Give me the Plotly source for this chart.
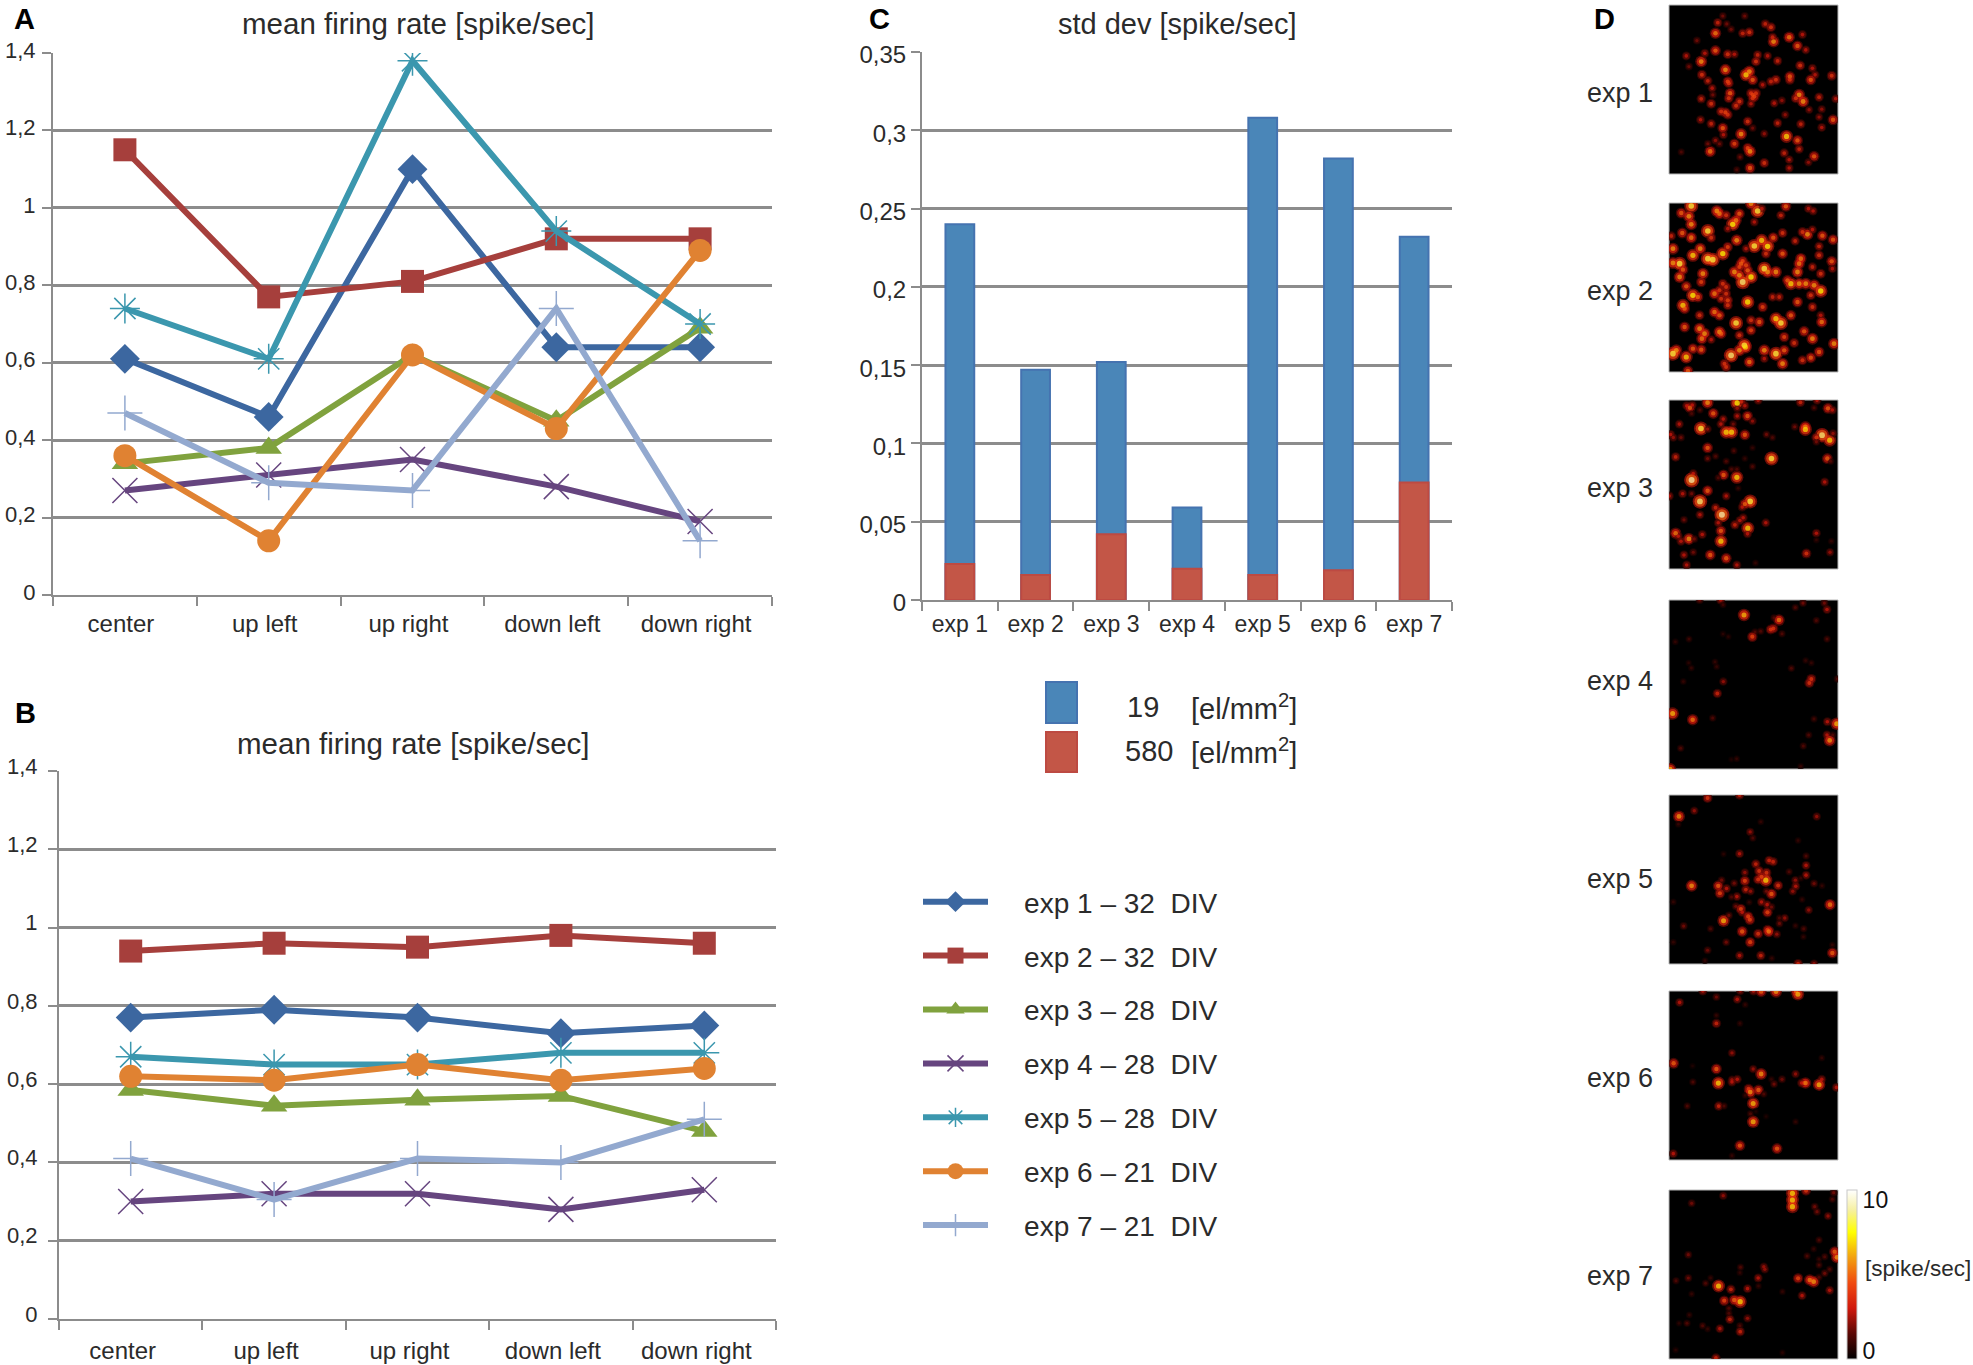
"""Firing rate figure: panels A, B (line), C (bars), D (spot maps)."""
import plotly.graph_objects as go

W, H = 1973, 1365
FONT = "Liberation Sans"
INK = "#2b2b2b"
GRID = "#8c8c8c"

positions = ["center", "up left", "up right", "down left", "down right"]
rate_ticks = [0, 0.2, 0.4, 0.6, 0.8, 1, 1.2, 1.4]
rate_labels = ["0", "0,2", "0,4", "0,6", "0,8", "1", "1,2", "1,4"]

exp_names = ["exp 1 – 32 DIV", "exp 2 – 32 DIV", "exp 3 – 28 DIV", "exp 4 – 28 DIV",
             "exp 5 – 28 DIV", "exp 6 – 21 DIV", "exp 7 – 21 DIV"]
exp_colors = ["#3c67a0", "#a63f3c", "#80a23e", "#66457f", "#3b97ae", "#e08232", "#93a9cf"]
exp_markers = ["diamond", "square", "triangle-up", "x-thin-open", "asterisk-open", "circle", "cross-thin-open"]

rate_a_1 = [0.61, 0.46, 1.10, 0.64, 0.64]
rate_a_2 = [1.15, 0.77, 0.81, 0.92, 0.92]
rate_a_3 = [0.34, 0.38, 0.62, 0.45, 0.69]
rate_a_4 = [0.27, 0.31, 0.35, 0.28, 0.19]
rate_a_5 = [0.74, 0.61, 1.38, 0.94, 0.70]
rate_a_6 = [0.36, 0.14, 0.62, 0.43, 0.89]
rate_a_7 = [0.47, 0.29, 0.27, 0.74, 0.14]

rate_b_1 = [0.77, 0.79, 0.77, 0.73, 0.75]
rate_b_2 = [0.94, 0.96, 0.95, 0.98, 0.96]
rate_b_3 = [0.585, 0.545, 0.56, 0.57, 0.48]
rate_b_4 = [0.30, 0.32, 0.32, 0.28, 0.33]
rate_b_5 = [0.67, 0.65, 0.65, 0.68, 0.68]
rate_b_6 = [0.62, 0.61, 0.65, 0.61, 0.64]
rate_b_7 = [0.41, 0.305, 0.41, 0.40, 0.51]

exps = ["exp 1", "exp 2", "exp 3", "exp 4", "exp 5", "exp 6", "exp 7"]
std_19 = [0.24, 0.147, 0.152, 0.059, 0.308, 0.282, 0.232]
std_580 = [0.023, 0.016, 0.042, 0.02, 0.016, 0.019, 0.075]
std_ticks = [0, 0.05, 0.1, 0.15, 0.2, 0.25, 0.3, 0.35]
std_labels = ["0", "0,05", "0,1", "0,15", "0,2", "0,25", "0,3", "0,35"]

# spots: (x, y, spike/sec), x and y in the crop's own units
spots_1 = [(235,68,3.5),(228,100,5.5),(250,48,2),(316,48,2),(262,72,2),(275,88,2),(310,100,3.5),(330,97,4),(378,72,3.5),(395,82,4),(403,125,6),(400,112,3.5),(450,112,5.5),(490,104,3),(172,122,2),(140,168,3),(148,200,2),(185,185,6),(187,225,4),(196,160,3),(228,152,5),(265,163,4),(285,163,3),(258,210,6),(320,225,7),(330,215,6),(340,240,5),(355,165,3.5),(350,185,4),(385,168,3),(415,183,3.5),(475,138,5),(500,150,3),(452,230,5),(452,240,4),(483,197,4),(520,205,3),(528,225,3),(515,240,5),(578,228,4),(205,243,3.5),(265,245,4.5),(268,250,4),(370,255,3),(395,245,3.5),(410,240,4),(218,265,3),(220,285,2),(272,280,5),(340,285,4.5),(345,290,4.5),(335,280,4),(350,280,4),(340,295,4),(480,285,6),(470,295,4),(492,305,6),(185,297,3.5),(215,312,4),(268,295,4),(300,305,4),(290,318,4),(258,338,4.5),(245,335,4),(265,345,4),(335,312,3),(405,310,3),(428,302,2.5),(540,292,3.5),(590,297,3),(183,360,3),(215,372,3.5),(250,385,5),(325,365,4),(340,385,2),(415,370,3.5),(438,345,2.5),(485,373,3.5),(510,330,2.5),(548,328,2.5),(540,352,2.5),(582,360,5),(548,383,3),(305,403,6),(252,405,3),(375,402,2.5),(442,410,7),(475,422,5),(285,432,4.5),(325,445,4.5),(332,455,6),(228,422,2.5),(212,455,5.5),(205,432,2),(240,432,2),(125,457,1.5),(302,472,2),(435,460,3.5),(480,448,3.5),(450,480,3),(525,470,5),(375,490,4),(508,488,2.5),(450,505,3),(332,505,5),(292,510,1.5)]
spots_2 = [(155,617,8),(125,638,5),(148,648,6),(232,632,6),(240,640,5.5),(260,645,4),(300,640,5),(290,660,5.5),(280,672,7.5),(335,610,6),(355,632,8),(368,625,3),(440,618,5),(425,645,3.5),(508,625,3),(522,632,3),(155,672,6),(205,692,8),(128,698,5),(95,707,3.5),(265,685,3),(345,665,3),(430,698,4),(505,702,6),(490,695,4),(520,688,3),(550,706,5),(582,718,5),(155,712,5.5),(215,712,4),(292,720,6),(402,712,5),(367,720,7),(385,738,7.5),(345,737,8),(320,745,3),(100,745,6),(182,745,6),(160,765,7),(250,760,7.5),(265,740,4.5),(205,775,8),(220,778,8),(310,782,4.5),(305,790,5),(430,760,5),(468,722,3.5),(485,775,5.5),(540,738,3.5),(540,765,4),(578,783,5),(120,790,8),(100,788,6),(380,760,4),(375,805,8),(385,815,6),(130,808,5),(120,830,6),(140,858,5),(190,820,6),(185,845,4.5),(285,815,6),(335,830,7.5),(310,845,8.5),(300,825,6),(325,810,5),(300,800,4.5),(320,795,4.5),(410,815,6),(475,815,6),(480,790,5.5),(520,800,3.5),(545,820,4),(580,805,3),(455,850,7),(480,850,6),(500,850,6),(445,840,5),(525,855,6),(545,872,7.5),(515,885,4),(240,870,4),(260,860,4),(250,850,4),(260,880,4),(245,895,4),(265,900,4.5),(265,915,4),(225,880,5.5),(160,885,7.5),(175,890,5),(325,905,7.5),(130,915,7),(135,925,5),(240,945,5),(225,935,5.5),(180,945,4),(370,920,4.5),(400,890,3.5),(420,890,3.5),(475,905,5),(520,920,4),(455,945,5),(410,955,7),(425,968,8),(290,968,8),(335,960,4),(360,965,5),(545,945,3),(548,965,5.5),(135,980,5),(180,985,6),(335,990,4.5),(240,995,6),(245,1000,5),(495,993,5),(195,1000,6),(187,1015,5.5),(300,1005,4),(435,1010,4.5),(465,1028,4),(520,1015,6),(585,1030,6),(215,1018,3),(315,1035,8),(318,1040,7),(375,1050,6),(110,1050,6),(100,1060,8),(140,1070,7),(160,1045,5),(185,1048,5),(275,1065,8.5),(300,1050,6),(410,1060,8),(435,1050,5),(540,1055,5),(515,1072,5),(490,1080,4),(430,1090,6),(255,1090,4),(260,1100,4),(145,1112,5),(330,1085,5.5),(375,1075,3)]
spots_3 = [(80,32,3),(90,38,5),(97,30,3),(143,23,6),(120,45,1.5),(95,55,1.5),(160,55,5),(232,24,7.5),(245,20,3.5),(255,32,3),(232,40,2.5),(295,16,3),(422,22,3.5),(472,16,3),(463,38,1.5),(505,40,5),(518,45,3),(58,87,3),(190,72,3),(183,87,3),(232,63,3),(263,63,5),(278,78,2.5),(220,87,2),(123,100,8),(143,102,2.5),(405,95,2),(437,95,5.5),(437,103,7),(199,111,7),(215,111,7),(255,119,5),(320,118,2),(338,127,1.5),(32,118,3),(40,127,2.5),(63,127,2),(487,120,8.5),(470,127,4),(510,135,7),(520,115,2.5),(470,140,2),(143,158,5),(222,167,1.5),(278,158,1),(47,185,3.5),(143,190,2),(167,183,1.5),(199,198,1.5),(255,190,1),(335,190,8),(503,190,5),(513,198,1.5),(215,222,1.5),(231,222,1.5),(278,214,1.5),(191,239,5),(231,246,7),(175,247,1.5),(100,235,3),(95,254,9),(495,260,3),(235,279,1),(143,286,5),(68,295,3),(95,295,2),(199,302,3),(28,302,3),(120,318,8.5),(271,318,8),(255,326,5),(247,335,3),(167,337,3.5),(120,358,3),(186,358,9),(72,373,2),(250,367,3),(240,375,3),(175,382,3),(225,388,3.5),(318,382,3),(183,406,5),(264,398,7),(263,415,3),(47,413,5.5),(55,422,3),(63,437,3),(127,417,3),(87,430,6),(103,430,2),(183,437,7),(470,413,3),(515,437,1),(470,433,1),(440,474,4),(511,470,2.5),(100,470,2),(72,478,3),(151,478,5),(199,488,5),(80,508,3),(231,508,3),(287,502,1)]
spots_4 = [(117,18,2),(180,18,3),(187,32,1.2),(250,62,6.5),(404,40,1.5),(427,27,2),(491,27,2),(499,46,3),(340,70,1.5),(355,77,5.5),(467,78,1.5),(330,105,4),(338,102,4),(300,110,1.5),(283,112,1.5),(275,126,4.5),(364,117,1.5),(187,118,0.8),(203,126,0.8),(85,133,1.2),(44,141,1),(499,133,1.5),(163,200,1),(84,203,0.8),(168,214,1),(92,218,1),(392,219,1.5),(435,196,1),(452,203,1),(452,250,4),(446,262,4),(530,250,1.5),(68,258,1),(188,258,2.5),(170,293,3.5),(36,352,6.5),(96,370,5.5),(156,365,1.5),(460,368,1.3),(500,376,3),(528,382,6.5),(444,415,1.5),(499,415,3),(516,415,1.5),(507,431,6),(428,447,1.5),(60,454,1.5),(228,485,1),(212,487,0.6),(420,507,1),(28,516,6.5)]
spots_5 = [(143,27,4),(239,18,3.5),(103,65,2.5),(57,82,6),(55,105,1),(471,82,2.5),(303,98,1),(271,128,2.5),(279,146,1.5),(415,154,1),(239,193,3),(191,194,0.8),(439,200,1.5),(328,213,3.5),(340,217,3.5),(288,224,3.5),(439,228,3),(388,247,1.5),(255,249,2.5),(298,245,4),(320,250,4),(295,270,4),(318,272,7),(305,262,4.5),(185,272,2),(223,281,2),(255,274,4.5),(407,272,2.5),(439,257,3),(423,266,1),(463,282,2),(487,289,1),(355,288,4),(95,289,6),(175,289,5),(200,297,3),(408,290,3),(399,305,2.5),(258,300,3.5),(272,305,2.5),(320,305,2),(335,313,5),(180,311,4.5),(231,321,3),(215,322,1.5),(40,337,1),(305,337,3),(322,345,3),(335,352,2),(268,338,1),(228,350,2),(243,358,4.5),(247,368,3),(323,368,4.5),(511,345,5.5),(447,361,2.5),(427,330,1),(375,385,2.5),(359,385,1.5),(207,377,2),(265,380,4.5),(270,390,4.5),(191,393,6.5),(359,401,2),(407,408,1),(71,409,2),(152,417,1.5),(247,425,5),(295,432,4),(323,420,4),(327,425,5.5),(351,433,2.5),(432,417,1.5),(431,441,1),(40,457,1),(199,457,2),(271,457,4.5),(143,481,2),(518,465,1),(518,489,5),(239,497,3),(303,497,3.5),(336,505,1),(135,512,1),(415,521,3.5),(463,521,2.5)]
spots_6 = [(127,20,3),(240,20,2.5),(280,20,3),(303,22,5),(348,22,6),(408,20,5),(414,30,6.5),(168,38,2),(231,45,3),(57,54,3),(255,61,1),(168,93,1),(168,117,3.5),(239,117,1),(215,205,2.5),(486,220,1),(39,236,5),(96,244,0.6),(168,253,5),(279,253,2.5),(303,268,6),(407,268,2.5),(215,285,2.5),(215,292,3),(231,284,3),(97,292,1.5),(174,295,7),(334,284,1),(342,298,2),(366,284,2),(432,295,4),(437,295,5.5),(425,295,3),(486,284,3),(478,300,6.5),(530,308,3),(265,312,4),(270,322,6),(295,316,5),(311,328,1.5),(255,332,1),(279,356,6.5),(175,364,3.5),(191,364,1.5),(80,364,1.5),(271,387,1.5),(287,380,0.6),(279,411,6.5),(318,395,0.6),(407,411,1),(239,482,5),(351,491,5),(38,506,3),(215,512,1)]
spots_7 = [(698,130,7),(698,150,7),(698,170,7),(739,122,4),(490,137,2.5),(395,160,2),(822,128,2),(818,148,1.5),(765,170,2),(772,185,2),(805,198,2.5),(778,270,1.5),(762,297,1),(742,318,1.5),(795,320,1.5),(778,328,1),(778,345,1.5),(825,305,5),(832,322,6),(810,358,1.5),(795,370,2),(778,382,1.5),(385,314,2),(542,352,1.5),(540,368,1),(615,358,2.5),(612,350,2.5),(385,384,2),(348,392,1.5),(452,384,1),(595,384,3),(715,385,4.5),(750,390,5.5),(762,395,6),(437,400,1.5),(476,408,7),(513,418,3.5),(563,416,3),(596,408,1),(668,425,1),(727,437,3),(810,421,3),(395,432,1),(493,452,4.5),(523,450,5),(541,455,7),(507,475,1.5),(507,490,1.5),(510,508,3.5),(563,505,2.5),(388,495,1),(381,520,1.5),(357,520,0.8),(428,527,1.5),(443,537,1),(480,536,3),(540,527,1.5),(541,545,3.5),(347,600,0.8),(468,624,3.5),(668,608,0.8)]

rates_a = [rate_a_1, rate_a_2, rate_a_3, rate_a_4, rate_a_5, rate_a_6, rate_a_7]
rates_b = [rate_b_1, rate_b_2, rate_b_3, rate_b_4, rate_b_5, rate_b_6, rate_b_7]
all_spots = [spots_1, spots_2, spots_3, spots_4, spots_5, spots_6, spots_7]

# crop units of each map: x0, x1, top, bottom
map_ranges = [(88, 597, 15, 523), (88, 597, 608, 1115), (27, 535, 15, 520), (25, 532, 18, 515),
              (27, 535, 18, 522), (25, 535, 20, 525), (327, 835, 120, 627)]
map_tops = [5, 203, 400, 600, 795, 991, 1190]
map_label_y = [93, 291, 488, 681, 879, 1078, 1276]
MAP_X0, MAP_SIZE = 1669, 169

hot = [[0, "#000000"], [0.15, "#5a0804"], [0.3, "#d0180c"], [0.45, "#f04a10"], [0.6, "#f2a010"],
       [0.75, "#ffff00"], [0.88, "#f6f0a0"], [1, "#ffffff"]]


def xdom(x0, x1):
    return [x0 / W, x1 / W]


def ydom(top, bottom):
    return [1 - bottom / H, 1 - top / H]


def label(x, y, text, size=24, anchor="center", weight=None, color=INK):
    return dict(x=x / W, y=1 - y / H, xref="paper", yref="paper", text=text, showarrow=False,
                xanchor=anchor, yanchor="middle",
                font=dict(family=FONT, size=size, color=color, weight=weight))


fig = go.Figure()


def line_panel(rates, n, legend):
    for i, vals in enumerate(rates):
        sym = exp_markers[i]
        fig.add_scatter(x=positions, y=vals, xaxis=f"x{n}", yaxis=f"y{n}", mode="lines+markers",
                        name="\u00a0\u00a0\u00a0\u00a0" + exp_names[i].replace(" DIV", "\u00a0\u00a0DIV"),
                        legendgroup=exp_names[i], showlegend=legend,
                        line=dict(color=exp_colors[i], width=6),
                        marker=dict(symbol=sym, size=23 if "open" not in sym else 25, color=exp_colors[i],
                                    line=dict(color=exp_colors[i], width=1.5 if "open" in sym else 0)))


line_panel(rates_a, 1, True)
line_panel(rates_b, 2, False)

fig.add_bar(x=exps, y=std_19, xaxis="x3", yaxis="y3", width=0.38, showlegend=False,
            marker=dict(color="#4a86b8", line=dict(color="#4573b0", width=2)))
fig.add_bar(x=exps, y=std_580, xaxis="x3", yaxis="y3", width=0.38, showlegend=False,
            marker=dict(color="#c35647", line=dict(color="#bd4a42", width=2)))

layout_axes = {}
shapes = []
for i, spots in enumerate(all_spots):
    n = i + 4
    xs = [s[0] for s in spots]
    ys = [s[1] for s in spots]
    rs = [s[2] for s in spots]
    # soft edge first, bright centre last
    for scale, fade in [(2.0, 0.3), (1.5, 0.55), (0.8, 1.0)]:
        fig.add_scatter(x=xs, y=ys, xaxis=f"x{n}", yaxis=f"y{n}", mode="markers", showlegend=False,
                        marker=dict(size=[(3 + 0.5 * r) * scale for r in rs],
                                    color=[r * fade for r in rs], coloraxis="coloraxis", line=dict(width=0)))
    x0, x1, top, bottom = map_ranges[i]
    layout_axes[f"xaxis{n}"] = dict(domain=xdom(MAP_X0, MAP_X0 + MAP_SIZE), range=[x0, x1], visible=False, anchor=f"y{n}")
    layout_axes[f"yaxis{n}"] = dict(domain=ydom(map_tops[i], map_tops[i] + MAP_SIZE), range=[bottom, top], visible=False, anchor=f"x{n}")
    shapes.append(dict(type="rect", xref=f"x{n} domain", yref=f"y{n} domain", x0=0, x1=1, y0=0, y1=1,
                       fillcolor="#000000", line=dict(color="#b8b8b8", width=1), layer="below"))

for y0, y1, col, edge in [(682, 723, "#4a86b8", "#4573b0"), (732, 772, "#c35647", "#bd4a42")]:
    shapes.append(dict(type="rect", xref="paper", yref="paper", x0=1046 / W, x1=1077 / W,
                       y0=1 - y1 / H, y1=1 - y0 / H, fillcolor=col, line=dict(color=edge, width=2)))


def cat_axis(dom, n, standoff, shift, size=24):
    return dict(domain=dom, anchor=f"y{n}", type="category", range=[-0.5, 4.5], tickson="boundaries", ticks="outside",
                ticklen=9, tickwidth=2, tickcolor=GRID, showline=True, linecolor=GRID, linewidth=2, showgrid=False,
                ticklabelstandoff=standoff, ticklabelshift=shift,
                tickfont=dict(family=FONT, size=size, color=INK))


def val_axis(dom, n, top, ticks, labels, standoff, shift, size=22):
    return dict(domain=dom, anchor=f"x{n}", range=[0, top], tickvals=ticks, ticktext=labels, ticks="outside",
                ticklen=9, tickwidth=2, tickcolor=GRID, showline=True, linecolor=GRID, linewidth=2, showgrid=True,
                gridcolor=GRID, gridwidth=2.5, zeroline=False, ticklabelstandoff=standoff, ticklabelshift=shift,
                tickfont=dict(family=FONT, size=size, color=INK))


xc = cat_axis(xdom(922, 1452), 3, 2, 0, 23)
xc["range"] = [-0.5, 6.5]

annotations = [
    label(24, 19, "A", 29, weight="bold", color="#000000"),
    label(25, 713, "B", 29, weight="bold", color="#000000"),
    label(879, 19, "C", 29, weight="bold", color="#000000"),
    label(1604, 19, "D", 29, weight="bold", color="#000000"),
    label(418, 23, "mean firing rate [spike/sec]", 29.5),
    label(413, 744, "mean firing rate [spike/sec]", 29.5),
    label(1177, 24, "std dev [spike/sec]", 29),
    label(1143, 707, "19", 29),
    label(1149, 751, "580", 29),
    label(1189, 707, "[el/mm<sup>2</sup>]", 29, anchor="left"),
    label(1189, 751, "[el/mm<sup>2</sup>]", 29, anchor="left"),
    label(1863, 1268, "[spike/sec]", 22.5, anchor="left"),
]
for i, y in enumerate(map_label_y):
    annotations.append(label(1620, y, exps[i], 27))

fig.update_layout(
    width=W, height=H, margin=dict(l=0, r=0, t=0, b=0), template="none",
    paper_bgcolor="white", plot_bgcolor="rgba(0,0,0,0)", barmode="overlay",
    xaxis=cat_axis(xdom(53, 772), 1, 6, -4), yaxis=val_axis(ydom(53, 595), 1, 1.4, rate_ticks, rate_labels, 2, -3),
    xaxis2=cat_axis(xdom(59, 776), 2, 9, -8), yaxis2=val_axis(ydom(771, 1319), 2, 1.4, rate_ticks, rate_labels, 6, -5),
    xaxis3=xc, yaxis3=val_axis(ydom(52, 600), 3, 0.35, std_ticks, std_labels, 0, 3, 24),
    coloraxis=dict(colorscale=hot, cmin=0, cmax=10, colorbar=dict(
        thickness=10, lenmode="pixels", len=169, x=1847 / W, xanchor="left", y=1 - 1359 / H, yanchor="bottom",
        tickvals=[0.5, 9.4], ticktext=["0", "10"], ticks="", outlinecolor="#c8c8c8", outlinewidth=1,
        tickfont=dict(family=FONT, size=23, color="#111111"), xpad=0, ypad=0)),
    legend=dict(x=918 / W, xanchor="left", y=1 - 877 / H, yanchor="top", itemwidth=65, tracegroupgap=14.5,
                traceorder="grouped", bgcolor="rgba(0,0,0,0)", font=dict(family=FONT, size=28, color=INK)),
    shapes=shapes, annotations=annotations, font=dict(family=FONT),
)
fig.update_layout(**layout_axes)
fig.write_html("out.html", post_script="document.body.style.margin='0';",
               config=dict(displayModeBar=False))
